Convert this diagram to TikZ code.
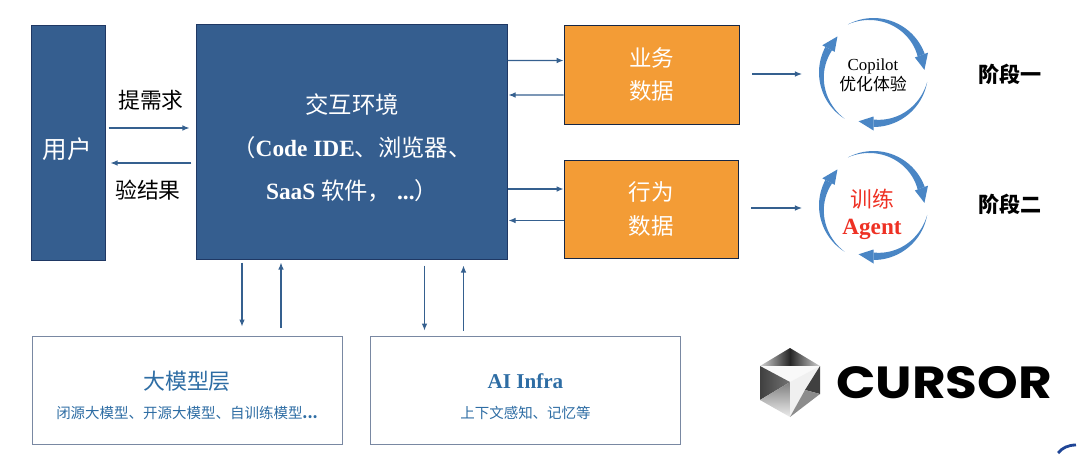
\documentclass[tikz,border=0pt]{standalone}
\usepackage{fontspec}
\setmainfont{Liberation Serif}
\newfontfamily\cjk{Noto Sans CJK SC}
\newfontfamily\logofont{Poppins}
\usepackage{tikz}
\usetikzlibrary{arrows.meta,calc}

\definecolor{boxblue}{HTML}{355E8F}
\definecolor{boxedge}{HTML}{1F3864}
\definecolor{dataorange}{HTML}{F39C36}
\definecolor{lineblue}{HTML}{35608F}
\definecolor{ringblue}{HTML}{4A86C5}
\definecolor{textblue}{HTML}{2E6DA4}
\definecolor{stagered}{HTML}{EE3124}
\definecolor{cornerblue}{HTML}{1F4596}

\tikzset{
  darkbox/.style={draw=boxedge, fill=boxblue, line width=0.7pt, inner sep=0pt},
  databox/.style={draw=boxedge!70!black, fill=dataorange, line width=0.5pt, inner sep=0pt, text=white, align=center,
    font=\cjk\fontsize{16}{24}\selectfont},
  layerbox/.style={draw=boxedge!60, fill=white, line width=0.6pt, inner sep=0pt},
  flow/.style={-{Latex[length=5pt,width=4pt]}, draw=lineblue, line width=0.8pt},
  sidelabel/.style={font=\cjk\fontsize{15.5}{18}\selectfont, text=black},
  stagelabel/.style={font=\cjk\bfseries\fontsize{15}{18}\selectfont, text=black}
}

\newcommand{\ringarrows}[2]{%
  \foreach \s/\e in {-118/-20, 10/90, 122/208} {
    \fill[ringblue] plot[domain=\s:\e, samples=24] ({#1+54.5*cos(\x)}, {#2+54.5*sin(\x)})
      -- plot[domain=\e:\s, samples=24] ({#1+(54.5-7.5*(\x-\s)/(\e-\s))*cos(\x)}, {#2+(54.5-7.5*(\x-\s)/(\e-\s))*sin(\x)}) -- cycle;
    \fill[ringblue] ({#1+44*cos(\e)}, {#2+44*sin(\e)}) -- ({#1+58*cos(\e)}, {#2+58*sin(\e)})
      -- ({#1+51*cos(\e+17)}, {#2+51*sin(\e+17)}) -- cycle;
  }
}

\begin{document}
\begin{tikzpicture}[x=0.025cm, y=-0.025cm]
  \useasboundingbox (0,0) rectangle (1080,468);

  % Left column and main block
  \node[darkbox, minimum width=1.825cm, minimum height=5.85cm] (user) at (68.5,143) {};
  \node[text=white, font=\cjk\fontsize{17.5}{20}\selectfont] (usertext) at (67,149) {用户};
  \node[darkbox, minimum width=7.75cm, minimum height=5.85cm] (env) at (352,142) {};
  \node[text=white, align=center, font=\fontsize{16.6}{30.5}\selectfont] (envtext) at (352,148)
    {{\cjk 交互环境}\\{\cjk （}\textbf{Code IDE}{\cjk 、浏览器、}\\\textbf{SaaS} {\cjk 软件，}\textbf{\ ...}{\cjk ）}};

  % Data blocks
  \node[databox, minimum width=4.375cm, minimum height=2.475cm] (bizdata) at (651.5,74.5) {业务\\数据};
  \node[databox, minimum width=4.35cm, minimum height=2.45cm] (actdata) at (651,209) {行为\\数据};

  % Bottom layers
  \node[layerbox, minimum width=7.75cm, minimum height=2.7cm] (model) at (187,390) {};
  \node[font=\cjk\fontsize{15.6}{18}\selectfont, text=textblue] (modeltitle) at (187,381) {大模型层};
  \node[font=\cjk\fontsize{10.3}{12}\selectfont, text=textblue] (modelsub) at (187,413) {闭源大模型、开源大模型、自训练模型\textbf{...}};
  \node[layerbox, minimum width=7.75cm, minimum height=2.7cm] (infra) at (525.5,390) {};
  \node[font=\bfseries\fontsize{15}{18}\selectfont, text=textblue] (infratitle) at (525.5,381) {AI Infra};
  \node[font=\cjk\fontsize{10.3}{12}\selectfont, text=textblue] (infrasub) at (525.5,413) {上下文感知、记忆等};

  % Labels between user and main block
  \node[sidelabel] (asklabel) at (151,100) {提需求};
  \node[sidelabel] (checklabel) at (148,190) {验结果};

  % Arrows, top row
  \draw[flow] ($(user.east)+(3,-15)$) -- ($(env.west)+(-7,-14)$);
  \draw[flow] ($(env.west)+(-5,21)$) -- ($(user.east)+(5,20)$);
  \draw[flow] ($(env.east)+(0,-81.5)$) -- ($(bizdata.west)+(0,-14)$);
  \draw[flow] ($(bizdata.west)+(0,20.5)$) -- ($(env.east)+(1,-47)$);
  \draw[flow] ($(env.east)+(0,47)$) -- ($(actdata.west)+(0,-20)$);
  \draw[flow] ($(actdata.west)+(0,11.5)$) -- ($(env.east)+(1,78.5)$);

  % Arrows, bottom row
  \draw[flow] ($(env.south)+(-110,3)$) -- ($(model.north)+(55,-9)$);
  \draw[flow] ($(model.north)+(94,-8)$) -- ($(env.south)+(-71,3)$);
  \draw[flow] ($(env.south)+(72.5,6)$) -- ($(infra.north)+(-101,-5)$);
  \draw[flow] ($(infra.north)+(-62,-5)$) -- ($(env.south)+(111.5,6)$);

  % Stage one
  \coordinate (ringone) at (802,74);
  \draw[flow] ($(bizdata.east)+(13,-0.5)$) -- (ringone);
  \ringarrows{873.5}{72.5}
  \node[align=center, font=\fontsize{12}{14}\selectfont] (copilot) at (873,75) {Copilot\\{\cjk 优化体验}};
  \node[stagelabel] (stageone) at (1010,74) {阶段一};

  % Stage two
  \coordinate (ringtwo) at (802,208);
  \draw[flow] ($(actdata.east)+(13,-1)$) -- (ringtwo);
  \ringarrows{873.5}{205.5}
  \node[align=center, text=stagered, font=\fontsize{15.5}{19}\selectfont] (agent) at (872,214) {{\cjk 训练}\\\textbf{\fontsize{16.5}{19}\selectfont Agent}};
  \node[stagelabel] (stagetwo) at (1010,204) {阶段二};

  % Logo
  \shade[left color=gray!35, right color=black!85] (760,366) -- (790,348) -- (790,366) -- cycle;
  \shade[left color=black!85, right color=gray!35] (790,348) -- (820,366) -- (790,366) -- cycle;
  \fill[gray!5] (760,366) -- (820,366) -- (790,382) -- cycle;
  \shade[left color=black!75, right color=black!55] (760,366) -- (790,382) -- (760,400) -- cycle;
  \shade[top color=black!50, bottom color=gray!15] (760,400) -- (790,382) -- (790,417) -- cycle;
  \fill[gray!12] (790,382) -- (820,366) -- (790,417) -- cycle;
  \fill[black!75] (820,366) -- (820,394) -- (805,390) -- cycle;
  \fill[black!45] (805,390) -- (820,394) -- (790,417) -- cycle;
  \node[font=\logofont\bfseries\fontsize{32}{34}\selectfont, text=black, inner sep=0pt, anchor=west] (cursor) at (836,383) {\scalebox{1.15}[1]{CURSOR}};

  % Corner mark
  \draw[line width=2pt, draw=cornerblue] (1058,453) .. controls (1062,448) and (1068,445) .. (1076,445);
\end{tikzpicture}
\end{document}
